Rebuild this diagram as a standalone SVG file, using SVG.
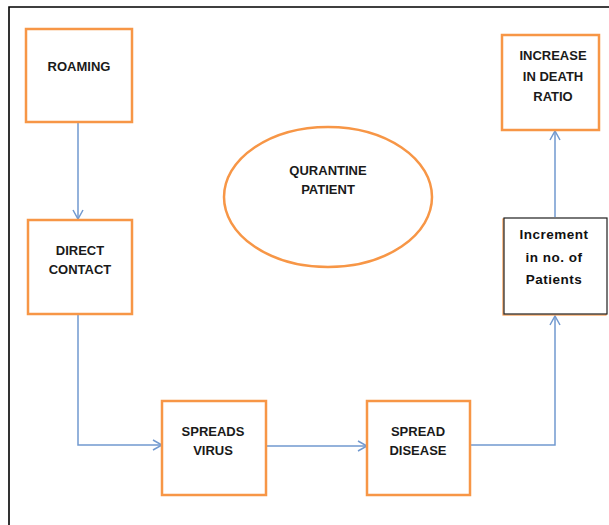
<svg xmlns="http://www.w3.org/2000/svg" width="609" height="525" viewBox="0 0 609 525">
  <defs>
    <style>
      .box { fill: #ffffff; stroke: #f79646; stroke-width: 2.5; }
      .plain { fill: #ffffff; stroke: #1f1f1f; stroke-width: 1.2; }
      .lbl { font-family: "Liberation Sans", Arial, sans-serif; font-weight: bold; font-size: 13px; fill: #1a1a1a; text-anchor: middle; }
      .lbl2 { font-family: "Liberation Sans", Arial, sans-serif; font-weight: bold; font-size: 13.5px; letter-spacing: 0.5px; fill: #111111; text-anchor: middle; }
      .link { fill: none; stroke: #7199cf; stroke-width: 1.5; marker-end: url(#open); }
    </style>
    <marker id="open" viewBox="0 0 12 12" refX="11" refY="6" markerWidth="12" markerHeight="12" markerUnits="userSpaceOnUse" orient="auto">
      <path d="M2,1 L11,6 L2,11" fill="none" stroke="#7199cf" stroke-width="1.5"/>
    </marker>
  </defs>

  <rect width="609" height="525" fill="#ffffff"/>
  <!-- page frame -->
  <path d="M9,525 V7 H609" fill="none" stroke="#000000" stroke-width="1.6"/>

  <g id="connectors">
    <path class="link" d="M78,123 V219"/>
    <path class="link" d="M78,315 V445 H162"/>
    <path class="link" d="M266,446 H367"/>
    <path class="link" d="M470,445 H555 V316"/>
    <path class="link" d="M555,217 V131"/>
  </g>

  <g id="roaming">
    <rect class="box" x="26" y="29" width="106" height="93"/>
    <text class="lbl" x="79" y="71">ROAMING</text>
  </g>

  <g id="direct-contact">
    <rect class="box" x="28" y="220" width="104" height="94"/>
    <text class="lbl" x="80" y="255">DIRECT</text>
    <text class="lbl" x="80" y="274">CONTACT</text>
  </g>

  <g id="spreads-virus">
    <rect class="box" x="162" y="401" width="104" height="94"/>
    <text class="lbl" x="213" y="436">SPREADS</text>
    <text class="lbl" x="213" y="455">VIRUS</text>
  </g>

  <g id="spread-disease">
    <rect class="box" x="367" y="401" width="103" height="94"/>
    <text class="lbl" x="418" y="436">SPREAD</text>
    <text class="lbl" x="418" y="455">DISEASE</text>
  </g>

  <g id="increment-patients">
    <rect x="503" y="219" width="103" height="96" fill="none" stroke="#f79646" stroke-width="1.2"/>
    <rect class="plain" x="504" y="218" width="103" height="96"/>
    <text class="lbl2" x="554" y="239">Increment</text>
    <text class="lbl2" x="554" y="262">in no. of</text>
    <text class="lbl2" x="554" y="284">Patients</text>
  </g>

  <g id="death-ratio">
    <rect class="box" x="502" y="35" width="97" height="95"/>
    <text class="lbl" x="553" y="60">INCREASE</text>
    <text class="lbl" x="553" y="81">IN DEATH</text>
    <text class="lbl" x="553" y="101">RATIO</text>
  </g>

  <g id="quarantine">
    <ellipse cx="328" cy="197" rx="104" ry="70" fill="#ffffff" stroke="#f79646" stroke-width="2.5"/>
    <text class="lbl" x="328" y="175">QURANTINE</text>
    <text class="lbl" x="328" y="194">PATIENT</text>
  </g>
</svg>
